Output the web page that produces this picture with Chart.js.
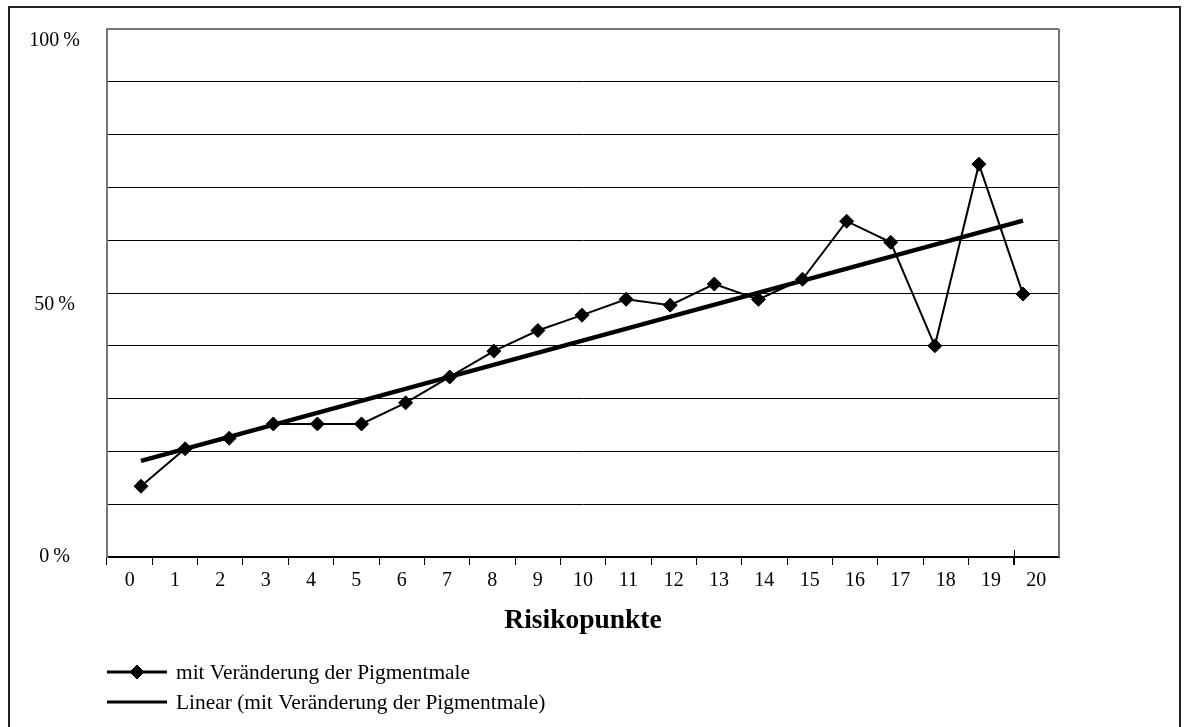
<!DOCTYPE html>
<html lang="de">
<head>
<meta charset="utf-8">
<title>Risikopunkte</title>
<script src="https://cdn.jsdelivr.net/npm/chart.js@4/dist/chart.umd.min.js"></script>
<style>
  html, body { margin: 0; padding: 0; background: #fff; }
  #wrap { position: relative; width: 1184px; height: 727px; overflow: hidden; }
  #frame { position: absolute; left: 8px; top: 6px; width: 1173px; height: 760px; border: 2px solid #222; box-sizing: border-box; pointer-events: none; }
  canvas { position: absolute; left: 0; top: 0; }
</style>
</head>
<body>
<div id="wrap">
  <canvas id="chart" width="1184" height="727"></canvas>
  <div id="frame"></div>
</div>
<script>
// Risikopunkte (0–20) und Anteil mit Veränderung der Pigmentmale in %
const riskPoints = [0, 1, 2, 3, 4, 5, 6, 7, 8, 9, 10, 11, 12, 13, 14, 15, 16, 17, 18, 19, 20];
const shareChanged = [13.4, 20.5, 22.5, 25.2, 25.2, 25.2, 29.2, 34.1, 39.0, 42.9, 45.8, 48.8, 47.7, 51.7, 48.8, 52.6, 63.6, 59.6, 40.0, 74.4, 49.8];
const axisLabels = riskPoints.map(String);
const yLabelValues = [0, 50, 100];

const seriesName = 'mit Veränderung der Pigmentmale';
const trendName = 'Linear (mit Veränderung der Pigmentmale)';

// least-squares trend line through the series
function linearFit(xs, ys) {
  const n = xs.length;
  const mx = xs.reduce((a, b) => a + b, 0) / n;
  const my = ys.reduce((a, b) => a + b, 0) / n;
  let sxy = 0, sxx = 0;
  for (let i = 0; i < n; i++) {
    sxy += (xs[i] - mx) * (ys[i] - my);
    sxx += (xs[i] - mx) * (xs[i] - mx);
  }
  const slope = sxy / sxx;
  return x => my + slope * (x - mx);
}
const trend = linearFit(riskPoints, shareChanged);
const trendPoints = [riskPoints[0], riskPoints[riskPoints.length - 1]].map(x => ({ x, y: trend(x) }));

const FONT = '"Liberation Serif", "DejaVu Serif", serif';

// right edge of the plot and the long tick between 19 and 20
const framePlugin = {
  id: 'plotFrame',
  afterDraw(chart) {
    const { ctx, chartArea: a } = chart;
    const xs = chart.scales.x;
    ctx.save();
    ctx.strokeStyle = '#777';
    ctx.lineWidth = 2;
    ctx.beginPath();
    ctx.moveTo(a.right, a.top);
    ctx.lineTo(a.right, a.bottom);
    ctx.stroke();
    const bx = Math.round((xs.getPixelForValue(19) + xs.getPixelForValue(20)) / 2) + 0.5;
    ctx.strokeStyle = '#000';
    ctx.lineWidth = 1;
    ctx.beginPath();
    ctx.moveTo(bx, a.bottom - 7);
    ctx.lineTo(bx, a.bottom + 8);
    ctx.stroke();
    ctx.restore();
  }
};

// legend stacked one entry per row below the axis title
const stackedLegend = {
  id: 'stackedLegend',
  afterDraw(chart) {
    const { ctx, chartArea: a } = chart;
    const rowY = [672, 702];
    const symL = a.left, symR = a.left + 60, textX = a.left + 69;
    ctx.save();
    chart.data.datasets.forEach((ds, i) => {
      const y = rowY[i];
      ctx.strokeStyle = '#000';
      ctx.lineWidth = 3;
      ctx.beginPath();
      ctx.moveTo(symL, y);
      ctx.lineTo(symR, y);
      ctx.stroke();
      if (ds.pointRadius > 0) {
        ctx.fillStyle = ds.pointBackgroundColor;
        ctx.strokeStyle = ds.pointBorderColor;
        ctx.lineWidth = 1;
        Chart.helpers.drawPoint(ctx, { pointStyle: ds.pointStyle, radius: 7, rotation: 0, borderWidth: 1 }, (symL + symR) / 2, y);
      }
      ctx.fillStyle = '#000';
      ctx.font = '21.4px ' + FONT;
      ctx.textBaseline = 'middle';
      ctx.textAlign = 'left';
      ctx.fillText(ds.label, textX, y + 1);
    });
    ctx.restore();
  }
};

new Chart(document.getElementById('chart'), {
  type: 'line',
  data: {
    labels: axisLabels,
    datasets: [
      {
        label: seriesName,
        data: riskPoints.map((x, i) => ({ x, y: shareChanged[i] })),
        xAxisID: 'xv',
        borderColor: '#000',
        borderWidth: 2,
        pointStyle: 'rectRot',
        pointRadius: 7,
        pointBackgroundColor: '#000',
        pointBorderColor: '#000',
        pointBorderWidth: 1,
        tension: 0,
        order: 1
      },
      {
        label: trendName,
        data: trendPoints,
        xAxisID: 'xv',
        borderColor: '#000',
        borderWidth: 4.5,
        pointRadius: 0,
        tension: 0,
        order: 2
      }
    ]
  },
  options: {
    responsive: false,
    animation: false,
    events: [],
    layout: { padding: { left: 0, top: 29, right: 125, bottom: 90 } },
    plugins: {
      legend: { display: false },
      tooltip: { enabled: false }
    },
    scales: {
      x: {
        type: 'category',
        position: 'bottom',
        offset: true,
        afterFit(s) { s.height = 80; },
        grid: {
          offset: true,
          drawOnChartArea: false,
          drawTicks: true,
          tickLength: 8,
          tickWidth: 1,
          // the closing boundary after the last category carries no tick mark
          tickColor: ctx => (ctx.type === 'tick' ? '#000' : 'rgba(0,0,0,0)')
        },
        border: { color: '#000', width: 2 },
        ticks: {
          color: '#000',
          font: { family: FONT, size: 20 },
          padding: 4,
          maxRotation: 0,
          autoSkip: false
        },
        title: {
          display: true,
          text: 'Risikopunkte',
          color: '#000',
          font: { family: FONT, size: 27.5, weight: 'bold' },
          padding: { top: 0, bottom: 0 }
        }
      },
      xv: {
        type: 'linear',
        display: false,
        min: -0.771,
        max: 20.816
      },
      y: {
        type: 'linear',
        min: 0,
        max: 100,
        afterFit(s) {
          s.width = 107;
          s.paddingTop = 0;
          s.paddingBottom = 0;
        },
        grid: {
          drawTicks: false,
          color: ctx => (ctx.tick && ctx.tick.value === 100 ? '#777' : '#000'),
          lineWidth: ctx => (ctx.tick && ctx.tick.value === 100 ? 2 : 1)
        },
        border: { color: '#777', width: 2 },
        ticks: {
          stepSize: 10,
          autoSkip: false,
          color: '#000',
          font: { family: FONT, size: 20 },
          crossAlign: 'center',
          padding: 27,
          callback: v => {
            if (!yLabelValues.includes(v)) return '';
            const text = v + '\u2009%';
            return v === 0 ? text : ['', text];
          }
        }
      }
    }
  },
  plugins: [framePlugin, stackedLegend]
});
</script>
</body>
</html>
